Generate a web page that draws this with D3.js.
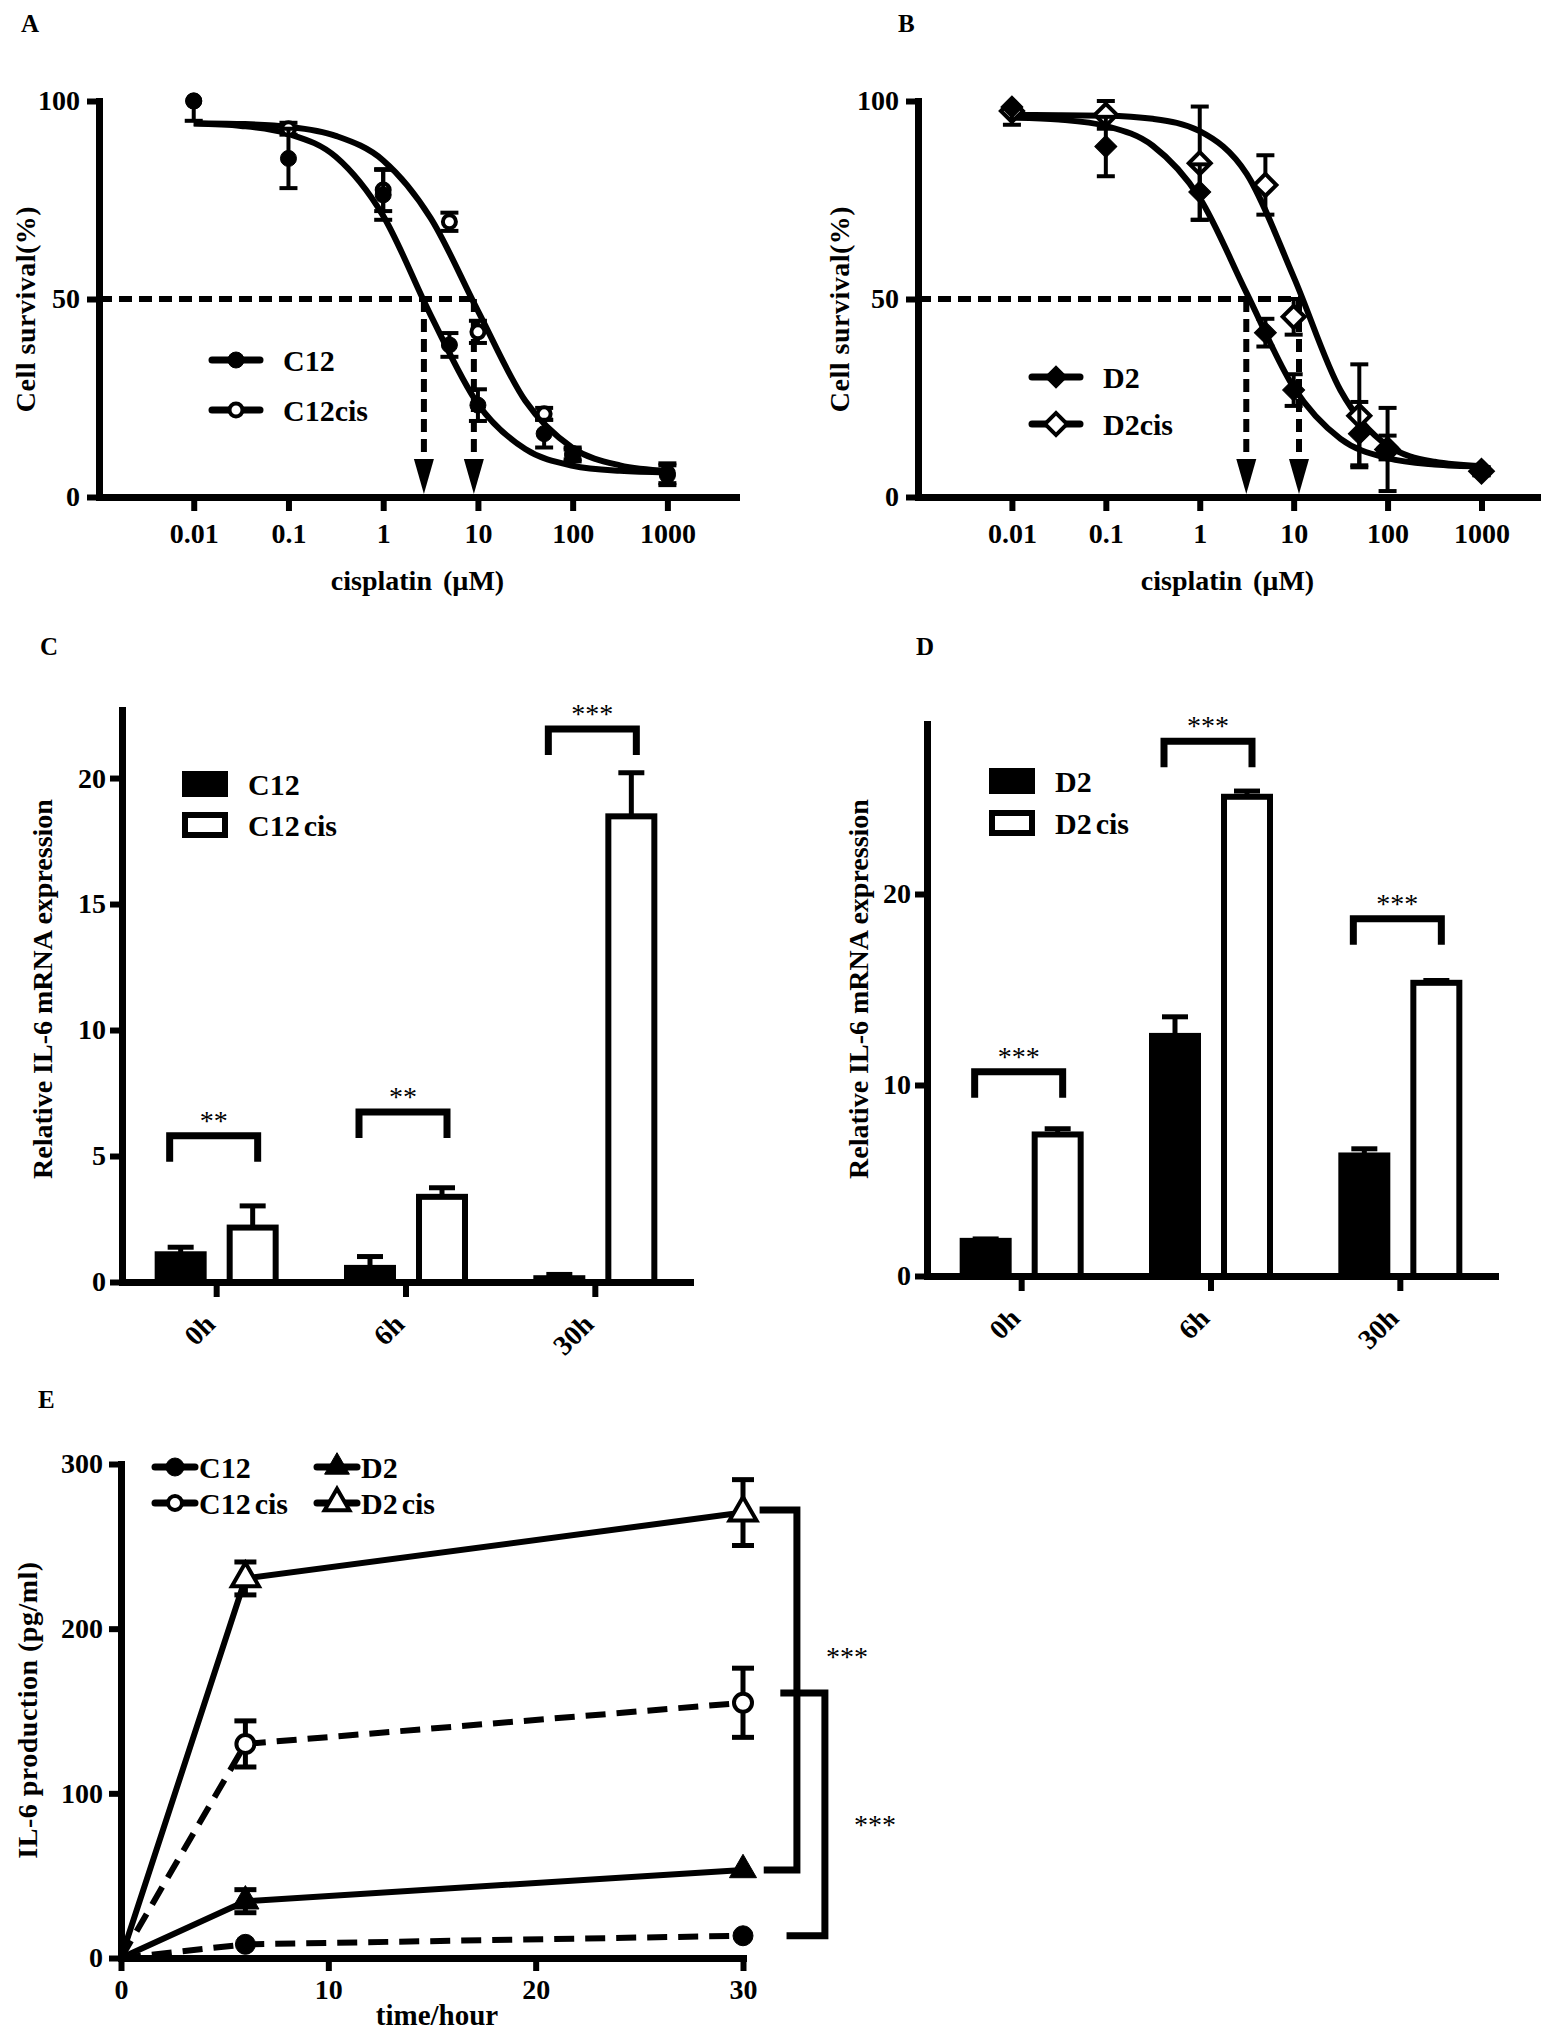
<!DOCTYPE html>
<html>
<head>
<meta charset="utf-8">
<script src="https://cdn.jsdelivr.net/npm/d3@7"></script>
<style>
  body { margin: 0; background: #fff; }
  svg text { font-family: "Liberation Serif", "Times New Roman", serif; }
</style>
</head>
<body>
<div id="figure"></div>
<script>
// ---- values ----

// A / B : cell survival (%) against cisplatin dose (uM)
const doses = [0.01, 0.1, 1, 5, 10, 50, 100, 1000];
const c12Survival = [100, 85.5, 76.3, 38.4, 23.2, 16, 10.5, 5.5];
const c12SurvivalErr = [5, 7.5, 6.3, 3, 4, 3.5, 1.5, 2.5];
const c12cisSurvival = [100, 93, 77.5, 69.5, 41.7, 21, 11, 6];
const c12cisSurvivalErr = [0, 1.5, 5.3, 2.3, 2.8, 1.5, 1.5, 2.5];
const d2Survival = [98.5, 88.5, 77, 41.5, 27, 16, 12.5, 6.5];
const d2SurvivalErr = [4.5, 7.5, 7, 3.5, 4, 8, 3, 1];
const d2cisSurvival = [97.5, 96.5, 84.3, 78.8, 45.5, 20.5, 12, 6.5];
const d2cisSurvivalErr = [0, 3.5, 14.3, 7.5, 4.5, 13, 10.5, 1];

// fitted curves, read every half decade
const fitDoses = [0.01, 0.0316, 0.1, 0.316, 1, 3.16, 10, 31.6, 100, 316, 1000];
const c12Fit = [94.3, 93.7, 91.7, 85.9, 71.0, 46.0, 23.5, 12.1, 7.9, 6.6, 6.2];
const c12cisFit = [94.4, 94.2, 93.5, 91.2, 85.0, 70.5, 47.0, 24.3, 12.4, 8.0, 6.6];
const d2Fit = [95.8, 95.3, 93.7, 88.7, 75.5, 51.5, 27.7, 14.7, 9.8, 8.2, 7.7];
const d2cisFit = [96.5, 96.4, 96.3, 95.5, 92.4, 81.6, 55.6, 26.9, 13.0, 8.9, 7.8];

// IC50 arrows (uM)
const c12Ic50 = [2.69, 9.06];
const d2Ic50 = [3.13, 11.4];

const doseTicks = [0.01, 0.1, 1, 10, 100, 1000];
const doseTickLabels = ["0.01", "0.1", "1", "10", "100", "1000"];
const survivalTicks = [0, 50, 100];

// C / D : relative IL-6 mRNA expression
const timepoints = ["0h", "6h", "30h"];
const c12Mrna = [1.1, 0.56, 0.15];
const c12MrnaErr = [0.28, 0.45, 0.15];
const c12cisMrna = [2.16, 3.38, 18.48];
const c12cisMrnaErr = [0.86, 0.36, 1.73];
const d2Mrna = [1.84, 12.57, 6.31];
const d2MrnaErr = [0.1, 1.0, 0.35];
const d2cisMrna = [7.41, 25.09, 15.35];
const d2cisMrnaErr = [0.3, 0.3, 0.12];
const c12MrnaSig = ["**", "**", "***"];
const c12MrnaSigLevel = [5.8, 6.75, 21.95];
const d2MrnaSig = ["***", "***", "***"];
const d2MrnaSigLevel = [10.7, 28.0, 18.7];
const c12MrnaTicks = [0, 5, 10, 15, 20];
const d2MrnaTicks = [0, 10, 20];

// E : IL-6 production (pg/ml) over time
const hours = [0, 6, 30];
const c12Il6 = [0, 8.3, 13.5];
const c12Il6Err = [0, 0, 0];
const c12cisIl6 = [0, 130, 155];
const c12cisIl6Err = [0, 14, 21];
const d2Il6 = [0, 34.5, 53.5];
const d2Il6Err = [0, 7, 0];
const d2cisIl6 = [0, 230.5, 270.5];
const d2cisIl6Err = [0, 10, 20];
const il6BracketTop = [272, 161];
const il6BracketBottom = [53.5, 13.5];
const il6Sig = ["***", "***"];
const hourTicks = [0, 10, 20, 30];
const il6Ticks = [0, 100, 200, 300];

// ---- drawing ----
const svg = d3.select("#figure").append("svg")
    .attr("width", 1550)
    .attr("height", 2031)
    .style("background", "#fff");

const SERIF = "'Liberation Serif', 'Times New Roman', serif";

function styleAxis(sel, width) {
    sel.attr("font-family", SERIF)
        .attr("font-size", 28)
        .attr("font-weight", "bold");
    sel.select(".domain")
        .attr("stroke-width", width)
        .attr("stroke-linecap", "square");
    sel.selectAll(".tick line").attr("stroke-width", width - 1);
    sel.selectAll(".tick text").attr("fill", "#000");
}

function boldText(g, x, y, size, txt) {
    return g.append("text")
        .attr("x", x)
        .attr("y", y)
        .attr("font-size", size)
        .attr("font-weight", "bold")
        .attr("fill", "#000")
        .text(txt);
}

function rotatedLabel(g, x, y, size, txt, spacing) {
    return g.append("text")
        .attr("transform", `translate(${x},${y}) rotate(-90)`)
        .attr("text-anchor", "middle")
        .attr("font-size", size)
        .attr("font-weight", "bold")
        .attr("letter-spacing", spacing || 0)
        .text(txt);
}

// symbols: circle / diamond / triangle, filled or open
function drawSymbol(g, kind, cx, cy, r) {
    const open = kind.endsWith("Open");
    const shape = kind.replace("Open", "");
    let el;
    if (shape === "circle") {
        el = g.append("circle").attr("cx", cx).attr("cy", cy).attr("r", open ? r - 2 : r);
    } else if (shape === "diamond") {
        el = g.append("path")
            .attr("d", d3.symbol(d3.symbolSquare, r * r * 2)())
            .attr("transform", `translate(${cx},${cy}) rotate(45)`);
    } else {
        el = g.append("path")
            .attr("d", d3.symbol(d3.symbolTriangle, r * r * 2.2)())
            .attr("transform", `translate(${cx},${cy})`);
    }
    el.attr("fill", open ? "#fff" : "#000")
        .attr("stroke", "#000")
        .attr("stroke-width", open ? 4 : 1);
}

// vertical error bar; caps only where the end is drawn (topCap false when clipped)
function errorBar(g, cx, y1, y2, capW, sw, topCap) {
    g.append("line").attr("x1", cx).attr("x2", cx).attr("y1", y1).attr("y2", y2)
        .attr("stroke", "#000").attr("stroke-width", sw);
    const caps = topCap === false ? [y2] : [y1, y2];
    caps.forEach(function (yy) {
        g.append("line").attr("x1", cx - capW / 2).attr("x2", cx + capW / 2)
            .attr("y1", yy).attr("y2", yy)
            .attr("stroke", "#000").attr("stroke-width", sw);
    });
}

// Panel letters
[["A", 21, 32], ["B", 898, 32], ["C", 40, 655], ["D", 916, 655], ["E", 38, 1408]].forEach(function (p) {
    boldText(svg, p[1], p[2], 25, p[0]);
});

// ---------- A / B ----------
function drawSurvival(cfg) {
    const g = svg.append("g");
    const x = d3.scaleLog().domain([0.001, cfg.xMax]).range([cfg.left, cfg.right]);
    const y = d3.scaleLinear().domain([0, 100]).range([497, 101]);

    g.append("g")
        .attr("transform", `translate(${cfg.left},0)`)
        .call(d3.axisLeft(y).tickValues(survivalTicks).tickSize(12).tickSizeOuter(0).tickPadding(7))
        .call(styleAxis, 7);

    g.append("g")
        .attr("transform", `translate(0,${y(0)})`)
        .call(d3.axisBottom(x).tickValues(doseTicks)
            .tickFormat(function (d, i) { return doseTickLabels[i]; })
            .tickSize(14).tickSizeOuter(0).tickPadding(12))
        .call(styleAxis, 7);

    // IC50 guides
    g.append("line")
        .attr("x1", cfg.left).attr("x2", x(d3.max(cfg.ic50)))
        .attr("y1", y(50)).attr("y2", y(50))
        .attr("stroke", "#000").attr("stroke-width", 6).attr("stroke-dasharray", "13,7");
    cfg.ic50.forEach(function (v) {
        const ax = x(v);
        g.append("line")
            .attr("x1", ax).attr("x2", ax)
            .attr("y1", y(50)).attr("y2", y(0) - 38)
            .attr("stroke", "#000").attr("stroke-width", 6).attr("stroke-dasharray", "13,7");
        g.append("path")
            .attr("d", `M${ax - 10},${y(0) - 38}L${ax + 10},${y(0) - 38}L${ax},${y(0) - 3}Z`)
            .attr("fill", "#000");
    });

    // fitted curves
    const line = d3.line()
        .x(function (d) { return x(d[0]); })
        .y(function (d) { return y(d[1]); })
        .curve(d3.curveMonotoneX);
    cfg.series.forEach(function (s) {
        g.append("path")
            .datum(d3.zip(fitDoses, s.fit))
            .attr("d", line)
            .attr("fill", "none")
            .attr("stroke", "#000")
            .attr("stroke-width", 6);
    });

    // points (open series first, filled on top); bars clipped at the 100% axis end
    cfg.series.slice().reverse().forEach(function (s) {
        doses.forEach(function (d, i) {
            if (s.err[i] > 0) {
                const hi = s.mean[i] + s.err[i];
                errorBar(g, x(d), y(Math.min(hi, 100)), y(s.mean[i] - s.err[i]), 18, 4, hi <= 100);
            }
            drawSymbol(g, s.symbol, x(d), y(s.mean[i]), s.size);
        });
    });

    // legend
    cfg.series.forEach(function (s, i) {
        const ly = cfg.legendY[i];
        g.append("line")
            .attr("x1", cfg.legendX).attr("x2", cfg.legendX + 48)
            .attr("y1", ly).attr("y2", ly)
            .attr("stroke", "#000").attr("stroke-width", 7).attr("stroke-linecap", "round");
        drawSymbol(g, s.symbol, cfg.legendX + 24, ly, s.size);
        boldText(g, cfg.legendX + 71, ly, 30, s.name).attr("dy", "0.35em");
    });

    // axis titles
    boldText(g, (cfg.left + cfg.right) / 2, 590, 28, "cisplatin (\u00B5M)")
        .attr("text-anchor", "middle").attr("word-spacing", 4);
    rotatedLabel(g, cfg.labelX, 309, 28, "Cell survival(%)", 0.5);
}

drawSurvival({
    left: 99, right: 736, xMax: 5300, labelX: 35,
    ic50: c12Ic50,
    legendX: 212, legendY: [360, 410],
    series: [
        { name: "C12", mean: c12Survival, err: c12SurvivalErr, fit: c12Fit, symbol: "circle", size: 8 },
        { name: "C12cis", mean: c12cisSurvival, err: c12cisSurvivalErr, fit: c12cisFit, symbol: "circleOpen", size: 8.5 }
    ]
});

drawSurvival({
    left: 918, right: 1537, xMax: 3900, labelX: 849,
    ic50: d2Ic50,
    legendX: 1032, legendY: [377, 424],
    series: [
        { name: "D2", mean: d2Survival, err: d2SurvivalErr, fit: d2Fit, symbol: "diamond", size: 11 },
        { name: "D2cis", mean: d2cisSurvival, err: d2cisSurvivalErr, fit: d2cisFit, symbol: "diamondOpen", size: 11 }
    ]
});

// ---------- C / D ----------
function drawBars(cfg) {
    const g = svg.append("g");
    const x0 = d3.scaleBand().domain(timepoints).range([cfg.left, cfg.right]);
    const x1 = d3.scaleBand().domain([0, 1]).range([-62, 62]).paddingInner(0.278);
    const y = d3.scaleLinear().domain([0, cfg.yMax]).range([cfg.base, cfg.top]);
    const center = function (t) { return x0(t) + x0.bandwidth() / 2; };

    // bars
    cfg.series.forEach(function (s, si) {
        g.selectAll(null)
            .data(timepoints)
            .enter()
            .append("rect")
            .attr("x", function (t) { return center(t) + x1(si) + 3; })
            .attr("width", x1.bandwidth() - 6)
            .attr("y", function (t, i) { return y(s.mean[i]); })
            .attr("height", function (t, i) { return cfg.base - y(s.mean[i]); })
            .attr("fill", s.fill)
            .attr("stroke", "#000")
            .attr("stroke-width", 6);
        timepoints.forEach(function (t, i) {
            const bx = center(t) + x1(si) + x1.bandwidth() / 2;
            const yt = y(s.mean[i] + s.err[i]);
            g.append("line").attr("x1", bx).attr("x2", bx)
                .attr("y1", y(s.mean[i]) - 2).attr("y2", yt)
                .attr("stroke", "#000").attr("stroke-width", 5);
            g.append("line").attr("x1", bx - 13).attr("x2", bx + 13)
                .attr("y1", yt).attr("y2", yt)
                .attr("stroke", "#000").attr("stroke-width", 5);
        });
    });

    // axes
    g.append("g")
        .attr("transform", `translate(${cfg.left},0)`)
        .call(d3.axisLeft(y).tickValues(cfg.ticks).tickSize(12).tickSizeOuter(0).tickPadding(4))
        .call(styleAxis, 7);
    const xAxis = g.append("g")
        .attr("transform", `translate(0,${cfg.base})`)
        .call(d3.axisBottom(x0).tickSize(15).tickSizeOuter(0))
        .call(styleAxis, 7);
    xAxis.selectAll(".tick text")
        .attr("y", 0).attr("dy", 0)
        .attr("text-anchor", "end")
        .attr("transform", "translate(0,44) rotate(-45)");

    // significance brackets
    timepoints.forEach(function (t, i) {
        const l = center(t) - 47, r = center(t) + 41, by = y(cfg.sigLevel[i]);
        g.append("path")
            .attr("d", `M${l},${by + 26}V${by}H${r}V${by + 26}`)
            .attr("fill", "none").attr("stroke", "#000").attr("stroke-width", 7);
        g.append("text")
            .attr("x", (l + r) / 2).attr("y", by - 6)
            .attr("text-anchor", "middle")
            .attr("font-size", 28)
            .text(cfg.sig[i]);
    });

    // legend
    cfg.series.forEach(function (s, i) {
        const ly = cfg.legendY[i];
        g.append("rect")
            .attr("x", cfg.legendX + 3).attr("y", ly - 10)
            .attr("width", 40).attr("height", 20)
            .attr("fill", s.fill).attr("stroke", "#000").attr("stroke-width", 6);
        const t = boldText(g, cfg.legendX + 66, ly, 30, s.label[0]).attr("dy", "0.35em");
        if (s.label[1]) t.append("tspan").attr("dx", 4).text(s.label[1]);
    });

    rotatedLabel(g, cfg.labelX, 989, 28, "Relative IL-6 mRNA expression", 0);
}

drawBars({
    left: 122, right: 690, base: 1282, top: 710, yMax: 22.7,
    ticks: c12MrnaTicks, sig: c12MrnaSig, sigLevel: c12MrnaSigLevel,
    legendX: 182, legendY: [784, 825], labelX: 52,
    series: [
        { label: ["C12"], mean: c12Mrna, err: c12MrnaErr, fill: "#000" },
        { label: ["C12", "cis"], mean: c12cisMrna, err: c12cisMrnaErr, fill: "#fff" }
    ]
});

drawBars({
    left: 927, right: 1495, base: 1276, top: 724, yMax: 28.9,
    ticks: d2MrnaTicks, sig: d2MrnaSig, sigLevel: d2MrnaSigLevel,
    legendX: 989, legendY: [781, 823], labelX: 868,
    series: [
        { label: ["D2"], mean: d2Mrna, err: d2MrnaErr, fill: "#000" },
        { label: ["D2", "cis"], mean: d2cisMrna, err: d2cisMrnaErr, fill: "#fff" }
    ]
});

// ---------- E ----------
(function () {
    const g = svg.append("g");
    const x = d3.scaleLinear().domain([0, 30]).range([121, 743]);
    const y = d3.scaleLinear().domain([0, 300]).range([1958, 1464]);

    g.append("g")
        .attr("transform", "translate(121,0)")
        .call(d3.axisLeft(y).tickValues(il6Ticks).tickSize(12).tickSizeOuter(0).tickPadding(6))
        .call(styleAxis, 7);
    g.append("g")
        .attr("transform", `translate(0,${y(0)})`)
        .call(d3.axisBottom(x).tickValues(hourTicks).tickSize(13).tickSizeOuter(0).tickPadding(8))
        .call(styleAxis, 7);

    const series = [
        { name: ["C12"], mean: c12Il6, err: c12Il6Err, dashed: true, symbol: "circle", size: 10 },
        { name: ["C12", "cis"], mean: c12cisIl6, err: c12cisIl6Err, dashed: true, symbol: "circleOpen", size: 11 },
        { name: ["D2"], mean: d2Il6, err: d2Il6Err, dashed: false, symbol: "triangle", size: 12 },
        { name: ["D2", "cis"], mean: d2cisIl6, err: d2cisIl6Err, dashed: false, symbol: "triangleOpen", size: 12 }
    ];

    const line = d3.line()
        .x(function (d) { return x(d[0]); })
        .y(function (d) { return y(d[1]); });

    series.forEach(function (s) {
        g.append("path")
            .datum(d3.zip(hours, s.mean))
            .attr("d", line)
            .attr("fill", "none")
            .attr("stroke", "#000")
            .attr("stroke-width", 6)
            .attr("stroke-dasharray", s.dashed ? "20,11" : null);
    });
    series.forEach(function (s) {
        hours.forEach(function (h, i) {
            if (h === 0) return;
            if (s.err[i] > 0) {
                errorBar(g, x(h), y(s.mean[i] + s.err[i]), y(s.mean[i] - s.err[i]), 22, 5);
            }
            drawSymbol(g, s.symbol, x(h), y(s.mean[i]), s.size);
        });
    });

    // significance brackets
    const bx = [[30.8, 32.6, 31.0], [31.8, 33.95, 32.1]];
    il6BracketTop.forEach(function (top, i) {
        g.append("path")
            .attr("d", `M${x(bx[i][0])},${y(top)}H${x(bx[i][1])}V${y(il6BracketBottom[i])}H${x(bx[i][2])}`)
            .attr("fill", "none").attr("stroke", "#000").attr("stroke-width", 7);
    });
    [[847, 1666], [875, 1834]].forEach(function (p, i) {
        g.append("text").attr("x", p[0]).attr("y", p[1])
            .attr("text-anchor", "middle").attr("font-size", 28).text(il6Sig[i]);
    });

    // legend, two columns
    const legendPos = [[155, 1467], [155, 1503], [317, 1467], [317, 1503]];
    series.forEach(function (s, i) {
        const lx = legendPos[i][0], ly = legendPos[i][1];
        g.append("line")
            .attr("x1", lx).attr("x2", lx + 40)
            .attr("y1", ly).attr("y2", ly)
            .attr("stroke", "#000").attr("stroke-width", 7).attr("stroke-linecap", "round");
        drawSymbol(g, s.symbol, lx + 20, ly, s.symbol.startsWith("triangle") ? 11 : 9);
        const t = boldText(g, lx + 44, ly, 30, s.name[0]).attr("dy", "0.35em");
        if (s.name[1]) t.append("tspan").attr("dx", 4).text(s.name[1]);
    });

    boldText(g, 437, 2025, 29, "time/hour").attr("text-anchor", "middle");
    rotatedLabel(g, 37, 1710, 28, "IL-6 production (pg/ml)", 0.5);
})();
</script>
</body>
</html>
